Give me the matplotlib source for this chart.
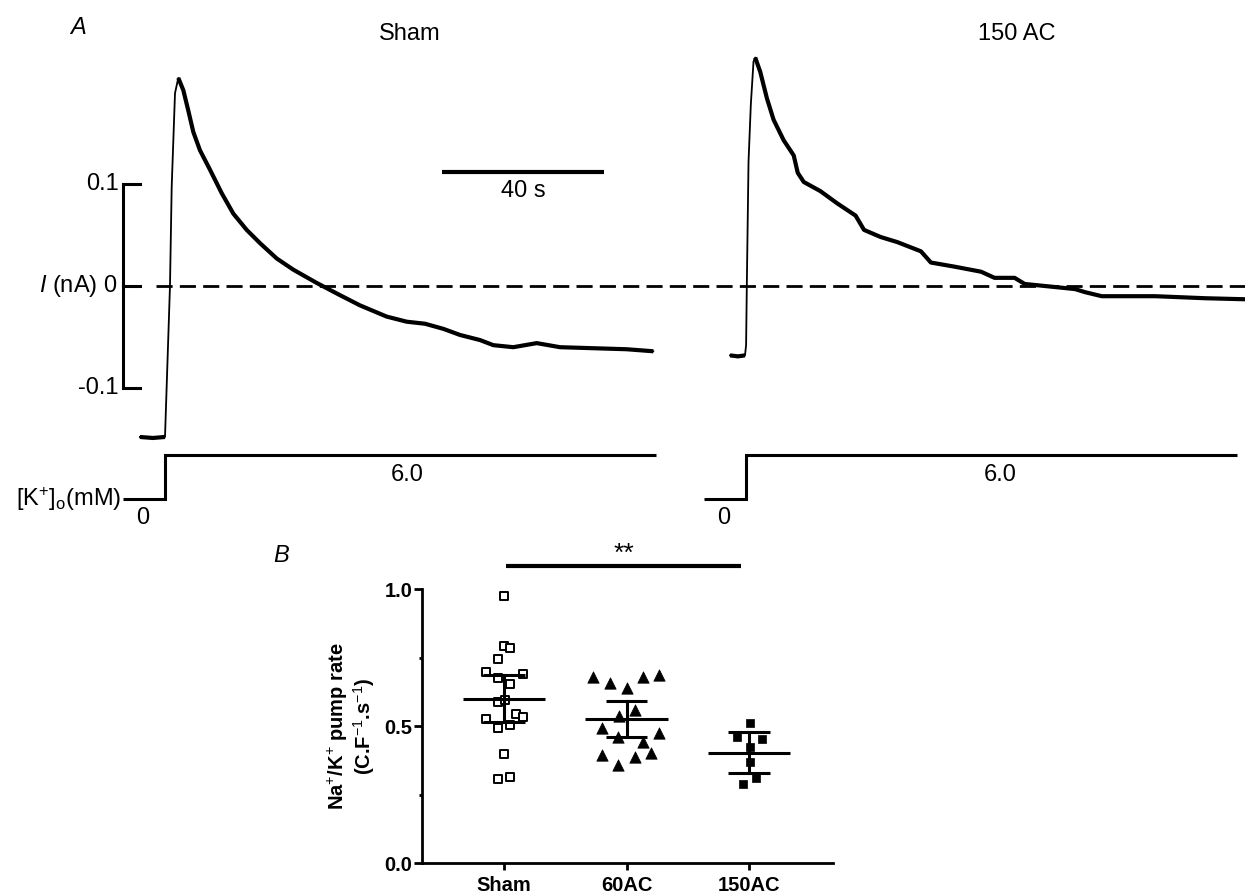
import matplotlib
matplotlib.use("Agg")
import matplotlib.pyplot as plt
import numpy as np

plt.rcParams['font.family'] = ['Liberation Sans', 'DejaVu Sans']
plt.rcParams['mathtext.fontset'] = 'custom'
plt.rcParams['mathtext.rm'] = 'Liberation Sans'
plt.rcParams['mathtext.it'] = 'Liberation Sans:italic'
plt.rcParams['mathtext.bf'] = 'Liberation Sans:bold'

# ---------------- Panel A data (time in s relative to K+ step, current in nA)
sham_t = [-6.2, -3.0, 0.0, 1.23, 1.65, 2.47, 3.28, 4.52, 5.75, 6.99, 8.64, 11.11, 14.0,
          16.86, 20.17, 23.46, 27.58, 31.68, 37.46, 43.21, 48.15, 54.74, 59.68, 64.2,
          68.72, 72.84, 77.78, 81.06, 86.0, 91.78, 97.53, 105.75, 114.0, 120.57]
sham_i = [-0.148, -0.149, -0.148, 0.000, 0.097, 0.189, 0.204, 0.192, 0.172, 0.151, 0.133,
          0.114, 0.091, 0.071, 0.055, 0.042, 0.027, 0.016, 0.003, -0.009, -0.019, -0.030,
          -0.035, -0.037, -0.042, -0.048, -0.053, -0.058, -0.060, -0.056, -0.060, -0.061,
          -0.062, -0.064]
sham_rise = (2, 6)  # indices bounding the fast rising phase

ac150_t = [-3.95, -2.0, -0.25, 0.02, 0.2, 0.62, 1.19, 1.85, 2.27, 3.51, 5.16, 6.81, 9.28,
           11.78, 12.77, 14.25, 18.37, 22.52, 27.06, 29.14, 33.26, 37.38, 43.19, 45.65,
           51.43, 58.05, 61.36, 66.32, 68.81, 76.25, 81.21, 83.68, 87.83, 101.04, 113.43,
           123.21]
ac150_i = [-0.068, -0.069, -0.068, -0.058, 0.001, 0.122, 0.178, 0.220, 0.224, 0.210,
           0.184, 0.163, 0.143, 0.128, 0.111, 0.102, 0.093, 0.081, 0.069, 0.055, 0.048,
           0.043, 0.034, 0.023, 0.019, 0.014, 0.008, 0.008, 0.002, -0.001, -0.003,
           -0.006, -0.010, -0.010, -0.012, -0.013]
ac150_rise = (2, 8)

k_t = [-10.3, 0.0, 0.0, 121.3]
k_conc = [0.0, 0.0, 6.0, 6.0]
trace_titles = ["Sham", "150 AC"]
time_bar_s = 40
current_bar = [-0.1, 0.0, 0.1]

# ---------------- Panel B data
groups = ["Sham", "60AC", "150AC"]
sham_vals = [0.976, 0.793, 0.783, 0.744, 0.696, 0.688, 0.676, 0.654, 0.587, 0.594,
             0.526, 0.545, 0.534, 0.493, 0.502, 0.399, 0.305, 0.313]
sham_jit = [0.0, 0.0, 0.049, -0.046, -0.150, 0.155, -0.052, 0.049, -0.052, 0.008,
            -0.150, 0.101, 0.152, -0.046, 0.049, 0.0, -0.046, 0.049]
ac60_vals = [0.680, 0.656, 0.638, 0.678, 0.685, 0.537, 0.559, 0.494, 0.476, 0.461,
             0.443, 0.394, 0.388, 0.400, 0.357]
ac60_jit = [-0.272, -0.136, 0.0, 0.136, 0.264, -0.060, 0.068, -0.204, 0.267, -0.068,
            0.136, -0.204, 0.068, 0.196, -0.068]
ac150_vals = [0.510, 0.459, 0.451, 0.424, 0.370, 0.312, 0.290]
ac150_jit = [0.008, -0.095, 0.103, 0.008, 0.008, 0.054, -0.046]
means = [0.600, 0.524, 0.402]
ci_low = [0.516, 0.459, 0.327]
ci_high = [0.687, 0.590, 0.477]

# ---------------- figure
W, H = 1245, 896
fig = plt.figure(figsize=(W / 100, H / 100), dpi=100)

def fx(px):
    return px / W

def fy(py):
    return 1 - py / H

PXS = 4.05          # px per second
T0 = 165            # px of left K+ step
GAP = 143.46        # display offset of the second trace (s)
IPX = 1020.0        # px per nA
Y0 = 286            # px of zero current

def tx(px):
    return (px - T0) / PXS

def iy(py):
    return (Y0 - py) / IPX

# current axes
a_top, a_bot = 40, 460
axA = fig.add_axes([0, fy(a_bot), 1, (a_bot - a_top) / H])
axA.set_xlim(tx(0), tx(W))
axA.set_ylim(iy(a_bot), iy(a_top))
axA.axis('off')
axA.patch.set_alpha(0)

lw_trace = 3.0
for t, i, (r0, r1), off in [(sham_t, sham_i, sham_rise, 0.0),
                            (ac150_t, ac150_i, ac150_rise, GAP)]:
    t = np.asarray(t) + off
    i = np.asarray(i)
    axA.plot(t, i, color='black', lw=1.3, solid_joinstyle='round')
    axA.plot(t[:r0 + 1], i[:r0 + 1], color='black', lw=lw_trace, solid_capstyle='butt')
    axA.plot(t[r1:], i[r1:], color='black', lw=lw_trace, solid_capstyle='butt',
             solid_joinstyle='round')

# zero dashed line
axA.plot([tx(156), tx(W)], [0, 0], color='black', lw=2.0, linestyle=(0, (5.8, 2.6)))

# vertical current scale bar
xb = tx(123)
xt = tx(140)
axA.plot([xt, xb, xb, xt], [current_bar[2], current_bar[2], current_bar[0], current_bar[0]],
         color='black', lw=2.2, solid_joinstyle='miter')
axA.plot([xb, xt], [current_bar[1], current_bar[1]], color='black', lw=2.2)
fs_a = 17
axA.text(tx(119), current_bar[2], "0.1", ha='right', va='center', fontsize=fs_a)
axA.text(tx(119), current_bar[0], "-0.1", ha='right', va='center', fontsize=fs_a)
axA.text(tx(118), current_bar[1], r"$\mathit{I}$ (nA) 0", ha='right', va='center', fontsize=fs_a)

# time scale bar
tb0 = tx(442)
axA.plot([tb0, tb0 + time_bar_s], [iy(172), iy(172)], color='black', lw=3.0,
         solid_capstyle='butt')
axA.text(tb0 + time_bar_s / 2, iy(191), f"{time_bar_s} s", ha='center', va='center',
         fontsize=fs_a)

# titles
fig.text(fx(410), fy(34), trace_titles[0], ha='center', va='center', fontsize=fs_a)
fig.text(fx(1017), fy(34), trace_titles[1], ha='center', va='center', fontsize=fs_a)
fig.text(fx(78), fy(28), "A", ha='center', va='center', fontsize=fs_a, style='italic')

# K+ step axes
KPX = 44 / 6.0
K0 = 499
k_top, k_bot = 430, 540
axK = fig.add_axes([0, fy(k_bot), 1, (k_bot - k_top) / H])
axK.set_xlim(tx(0), tx(W))
axK.set_ylim((K0 - k_bot) / KPX, (K0 - k_top) / KPX)
axK.axis('off')
axK.patch.set_alpha(0)
for off in [0.0, GAP]:
    axK.plot(np.asarray(k_t) + off, k_conc, color='black', lw=2.2,
             solid_joinstyle='miter', solid_capstyle='butt')
    axK.text(tx(143) + off, (K0 - 518) / KPX, "0", ha='center', va='center', fontsize=fs_a)
    axK.text(tx(407) + off + (3.0 if off else 0), (K0 - 475) / KPX, f"{k_conc[-1]:.1f}",
             ha='center', va='center', fontsize=fs_a)
axK.text(tx(121), 0, r"[K$^{+}$]$_{\mathregular{o}}$(mM)", ha='right', va='center',
         fontsize=fs_a)

# ---------------- Panel B
axB = fig.add_axes([fx(422), fy(863), (833 - 422) / W, (863 - 589) / H])
axB.set_xlim((422 - 504) / 122.5, (833 - 504) / 122.5)
axB.set_ylim(0, 1.0)
for s in ['top', 'right']:
    axB.spines[s].set_visible(False)
for s in ['left', 'bottom']:
    axB.spines[s].set_linewidth(2.0)

xs = np.arange(len(groups))
axB.scatter(xs[0] + np.asarray(sham_jit), sham_vals, marker='s', s=6.4 ** 2,
            facecolors='white', edgecolors='black', linewidths=1.4, zorder=3)
axB.scatter(xs[1] + np.asarray(ac60_jit), ac60_vals, marker='^', s=8.2 ** 2,
            facecolors='black', edgecolors='black', linewidths=0.5, zorder=3)
axB.scatter(xs[2] + np.asarray(ac150_jit), ac150_vals, marker='s', s=6.2 ** 2,
            facecolors='black', edgecolors='black', linewidths=0.5, zorder=3)

for k in range(len(groups)):
    axB.plot([xs[k] - 0.335, xs[k] + 0.335], [means[k], means[k]], color='black', lw=2.2,
             zorder=4, solid_capstyle='butt')
    axB.plot([xs[k], xs[k]], [ci_low[k], ci_high[k]], color='black', lw=2.2, zorder=4)
    for v in (ci_low[k], ci_high[k]):
        axB.plot([xs[k] - 0.17, xs[k] + 0.17], [v, v], color='black', lw=2.2, zorder=4,
                 solid_capstyle='butt')

fs_b = 14.5
axB.set_xticks(xs)
axB.set_xticklabels(groups, fontsize=fs_b, fontweight='bold')
axB.set_yticks([0.0, 0.5, 1.0])
axB.set_yticklabels(["0.0", "0.5", "1.0"], fontsize=fs_b, fontweight='bold')
axB.set_yticks([0.25, 0.75], minor=True)
axB.tick_params(axis='y', which='major', length=6, width=2.0, pad=1)
axB.tick_params(axis='y', which='minor', length=2.5, width=2.0)
axB.tick_params(axis='x', which='major', length=5, width=2.0, pad=4)
axB.set_ylabel("Na$^{+}$/K$^{+}$ pump rate\n(C.F$^{-1}$.s$^{-1}$)", fontsize=fs_b,
               fontweight='bold', labelpad=5, linespacing=1.05)

# significance bar
axB.plot([0.016, 1.935], [1.084, 1.084], color='black', lw=3.0, clip_on=False,
         solid_capstyle='butt')
axB.text(0.98, 1.128, "**", ha='center', va='center', fontsize=19, clip_on=False)
fig.text(fx(281), fy(556), "B", ha='center', va='center', fontsize=fs_a, style='italic')

fig.savefig("out.png", dpi=100)
